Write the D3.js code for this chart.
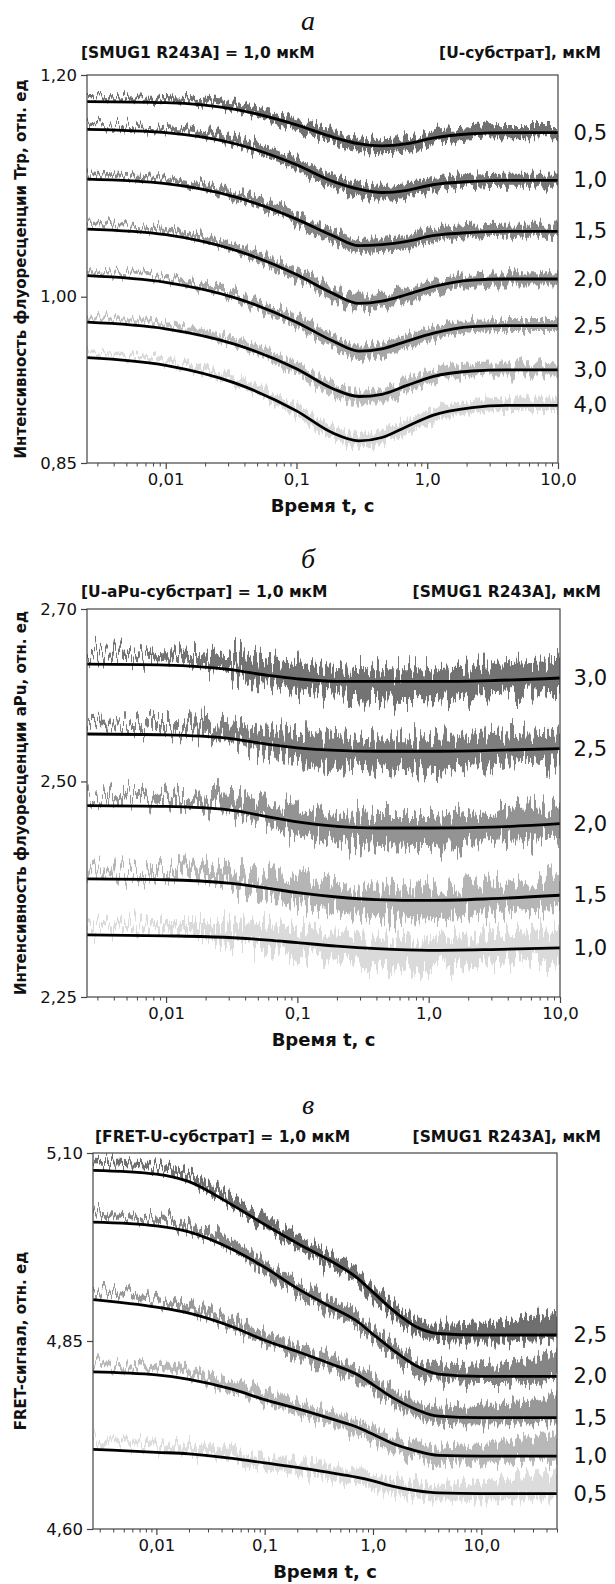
<!DOCTYPE html>
<html>
<head>
<meta charset="utf-8">
<script src="https://cdn.jsdelivr.net/npm/d3@7"></script>
<style>
  body { margin: 0; background: #fff; }
  svg { display: block; }
  .hdr { font-family: "DejaVu Sans", sans-serif; font-weight: bold; font-size: 15.5px; fill: #111; }
  .ttl { font-family: "Liberation Serif", "Times New Roman", serif; font-style: italic; font-size: 28px; fill: #111; }
  .ylab, .xlab { font-family: "DejaVu Sans", sans-serif; font-weight: bold; fill: #111; }
  .conc { font-family: "DejaVu Sans", sans-serif; font-size: 21px; fill: #111; }
</style>
</head>
<body>
<svg id="chart" width="615" height="1584"></svg>
<script>
// ---- panel а : Trp fluorescence, [U-substrate] series ----
const timeA = [0.0025, 0.01, 0.034, 0.1, 0.19, 0.3, 0.45, 0.7, 1.1, 2.2, 4, 10];
const concA = ["0,5", "1,0", "1,5", "2,0", "2,5", "3,0", "4,0"];
const trpA05 = [1.176, 1.175, 1.169, 1.155, 1.144, 1.138, 1.136, 1.138, 1.143, 1.147, 1.148, 1.148];
const trpA10 = [1.151, 1.148, 1.138, 1.119, 1.104, 1.097, 1.094, 1.096, 1.101, 1.104, 1.105, 1.105];
const trpA15 = [1.106, 1.102, 1.090, 1.070, 1.055, 1.046, 1.047, 1.050, 1.055, 1.058, 1.059, 1.059];
const trpA20 = [1.061, 1.056, 1.042, 1.020, 1.003, 0.994, 0.996, 1.002, 1.009, 1.015, 1.016, 1.016];
const trpA25 = [1.019, 1.013, 0.999, 0.977, 0.960, 0.951, 0.953, 0.960, 0.967, 0.973, 0.974, 0.974];
const trpA30 = [0.977, 0.971, 0.957, 0.935, 0.917, 0.910, 0.912, 0.920, 0.928, 0.933, 0.934, 0.934];
const trpA40 = [0.945, 0.938, 0.922, 0.897, 0.877, 0.870, 0.873, 0.883, 0.893, 0.900, 0.902, 0.902];
// spread of the raw traces around the fit
const noiseTimeA = [0.0025, 0.01, 0.04, 0.15, 1.05, 1.15, 10];
const noiseLowA  = [0.003, 0.002, -0.002, -0.006, -0.007, -0.005, -0.005];
const noiseHighA = [0.006, 0.006, 0.006, 0.006, 0.006, 0.006, 0.006];
const yTicksA = [0.85, 1.00, 1.20];
const yLabelsA = ["0,85", "1,00", "1,20"];

// ---- panel б : aPu fluorescence, [SMUG1 R243A] series ----
const timeB = [0.0025, 0.01, 0.03, 0.06, 0.1, 0.2, 0.4, 1, 3, 10];
const concB = ["3,0", "2,5", "2,0", "1,5", "1,0"];
const apuB30 = [2.636, 2.635, 2.630, 2.623, 2.619, 2.616, 2.616, 2.616, 2.617, 2.620];
const apuB25 = [2.555, 2.554, 2.550, 2.543, 2.539, 2.536, 2.535, 2.535, 2.536, 2.538];
const apuB20 = [2.472, 2.471, 2.467, 2.459, 2.453, 2.448, 2.446, 2.446, 2.447, 2.451];
const apuB15 = [2.387, 2.386, 2.382, 2.376, 2.371, 2.366, 2.363, 2.362, 2.364, 2.368];
const apuB10 = [2.322, 2.321, 2.319, 2.316, 2.313, 2.309, 2.306, 2.304, 2.305, 2.307];
const noiseTimeB = [0.0025, 0.01, 0.04, 0.1, 0.3, 1.05, 1.15, 10];
const noiseLowB  = [0.008, 0.006, -0.006, -0.015, -0.02, -0.022, -0.016, -0.016];
const noiseHighB = [0.014, 0.016, 0.018, 0.018, 0.014, 0.014, 0.018, 0.020];
const yTicksB = [2.25, 2.50, 2.70];
const yLabelsB = ["2,25", "2,50", "2,70"];

// ---- panel в : FRET signal, [SMUG1 R243A] series ----
const timeC = [0.0026, 0.01, 0.02, 0.05, 0.1, 0.2, 0.4, 0.7, 1, 1.5, 2.5, 4, 10, 50];
const concC = ["2,5", "2,0", "1,5", "1,0", "0,5"];
const fretC25 = [5.077, 5.072, 5.062, 5.031, 5.005, 4.980, 4.957, 4.935, 4.915, 4.892, 4.869, 4.860, 4.858, 4.858];
const fretC20 = [5.008, 5.003, 4.995, 4.972, 4.948, 4.920, 4.896, 4.877, 4.859, 4.839, 4.817, 4.806, 4.803, 4.803];
const fretC15 = [4.905, 4.895, 4.887, 4.869, 4.851, 4.836, 4.820, 4.806, 4.792, 4.775, 4.759, 4.750, 4.748, 4.748];
const fretC10 = [4.809, 4.805, 4.799, 4.786, 4.772, 4.760, 4.747, 4.736, 4.726, 4.714, 4.704, 4.698, 4.697, 4.697];
const fretC05 = [4.706, 4.702, 4.700, 4.694, 4.688, 4.682, 4.675, 4.669, 4.664, 4.657, 4.651, 4.648, 4.647, 4.647];
const noiseTimeC = [0.0026, 0.01, 0.05, 0.2, 1, 5, 20, 50];
const noiseLowC  = [0.008, 0.006, -0.003, -0.008, -0.010, -0.010, -0.008, -0.006];
const noiseHighC = [0.014, 0.014, 0.012, 0.010, 0.010, 0.012, 0.020, 0.030];
const yTicksC = [4.60, 4.85, 5.10];
const yLabelsC = ["4,60", "4,85", "5,10"];

const xTicks = [0.01, 0.1, 1, 10];
const xLabels = ["0,01", "0,1", "1,0", "10,0"];

const svg = d3.select("#chart");
const defs = svg.append("defs");

const panels = [
    {
        id: "a", letter: "а", letterY: 30, hdrY: 58, top: 75, bottom: 463, left: 87, right: 558,
        xDomain: [0.0025, 10], yDomain: [0.85, 1.20],
        time: timeA, fits: [trpA05, trpA10, trpA15, trpA20, trpA25, trpA30, trpA40], conc: concA,
        greys: ["#707070", "#767676", "#858585", "#969696", "#a6a6a6", "#bdbdbd", "#d9d9d9"],
        noise: [noiseTimeA, noiseLowA, noiseHighA], jitter: 22, seed: 3,
        yTicks: yTicksA, yLabels: yLabelsA,
        hdrLeft: "[SMUG1 R243A] = 1,0 мкМ", hdrLeftX: 81, hdrRight: "[U-субстрат], мкМ",
        yTitle: "Интенсивность флуоресценции Trp, отн. ед"
    },
    {
        id: "b", letter: "б", letterY: 568, hdrY: 597, top: 609, bottom: 997, left: 87, right: 560,
        xDomain: [0.0025, 10], yDomain: [2.25, 2.70],
        time: timeB, fits: [apuB30, apuB25, apuB20, apuB15, apuB10], conc: concB,
        greys: ["#737373", "#7e7e7e", "#939393", "#b5b5b5", "#dadada"],
        noise: [noiseTimeB, noiseLowB, noiseHighB], jitter: 50, seed: 7,
        yTicks: yTicksB, yLabels: yLabelsB,
        hdrLeft: "[U-aPu-субстрат] = 1,0 мкМ", hdrLeftX: 81, hdrRight: "[SMUG1 R243A], мкМ",
        yTitle: "Интенсивность флуоресценции aPu, отн. ед"
    },
    {
        id: "c", letter: "в", letterY: 1114, hdrY: 1142, top: 1153, bottom: 1529, left: 93, right: 557,
        xDomain: [0.0026, 50], yDomain: [4.60, 5.10],
        time: timeC, fits: [fretC25, fretC20, fretC15, fretC10, fretC05], conc: concC,
        greys: ["#6f6f6f", "#858585", "#989898", "#b8b8b8", "#dcdcdc"],
        noise: [noiseTimeC, noiseLowC, noiseHighC], jitter: 30, seed: 11,
        yTicks: yTicksC, yLabels: yLabelsC,
        hdrLeft: "[FRET-U-субстрат] = 1,0 мкМ", hdrLeftX: 95, hdrRight: "[SMUG1 R243A], мкМ",
        yTitle: "FRET-сигнал, отн. ед"
    }
];

panels.forEach(drawPanel);

function drawPanel(p) {
    const x = d3.scaleLog().domain(p.xDomain).range([p.left, p.right]);
    const y = d3.scaleLinear().domain(p.yDomain).range([p.bottom, p.top]);
    const lo = d3.scaleLog().domain(p.noise[0]).range(p.noise[1]).clamp(true);
    const hi = d3.scaleLog().domain(p.noise[0]).range(p.noise[2]).clamp(true);

    // clip + jitter filter for the raw traces
    defs.append("clipPath").attr("id", "clip-" + p.id)
        .append("rect")
        .attr("x", p.left).attr("y", p.top)
        .attr("width", p.right - p.left).attr("height", p.bottom - p.top);

    const f = defs.append("filter").attr("id", "jit-" + p.id)
        .attr("filterUnits", "userSpaceOnUse")
        .attr("x", 0).attr("y", p.top - 40).attr("width", 615).attr("height", p.bottom - p.top + 80)
        .attr("color-interpolation-filters", "sRGB");
    f.append("feTurbulence").attr("type", "fractalNoise")
        .attr("baseFrequency", "0.35 0.012").attr("numOctaves", 2).attr("seed", p.seed)
        .attr("result", "noise");
    f.append("feColorMatrix").attr("in", "noise").attr("type", "matrix")
        .attr("values", "0 0 0 0 0.5  0 1 0 0 0  0 0 0 0 0  0 0 0 0 1")
        .attr("result", "map");
    f.append("feDisplacementMap").attr("in", "SourceGraphic").attr("in2", "map")
        .attr("scale", p.jitter).attr("xChannelSelector", "R").attr("yChannelSelector", "G");

    const series = p.fits.map(vals => p.time.map((t, i) => ({ t: t, v: vals[i] })));

    const band = d3.area()
        .x(d => x(d.t))
        .y0(d => y(d.v + lo(d.t)))
        .y1(d => y(d.v + hi(d.t)))
        .curve(d3.curveMonotoneX);

    const line = d3.line()
        .x(d => x(d.t))
        .y(d => y(d.v))
        .curve(d3.curveMonotoneX);

    const clipped = svg.append("g").attr("clip-path", "url(#clip-" + p.id + ")");
    clipped.append("g").attr("filter", "url(#jit-" + p.id + ")")
        .selectAll("path")
        .data(series)
        .enter()
        .append("path")
        .attr("d", band)
        .attr("fill", (d, i) => p.greys[i]);

    clipped.append("g")
        .selectAll("path")
        .data(series)
        .enter()
        .append("path")
        .attr("d", line)
        .attr("fill", "none")
        .attr("stroke", "#000")
        .attr("stroke-width", 2.8);

    // frame
    svg.append("rect")
        .attr("x", p.left).attr("y", p.top)
        .attr("width", p.right - p.left).attr("height", p.bottom - p.top)
        .attr("fill", "none").attr("stroke", "#444").attr("stroke-width", 1.2);

    // y axis
    const yAxis = svg.append("g")
        .attr("transform", `translate(${p.left},0)`)
        .call(d3.axisLeft(y).tickValues(p.yTicks).tickFormat((d, i) => p.yLabels[i]).tickSize(6).tickPadding(4));
    yAxis.select(".domain").remove();
    yAxis.selectAll("line").attr("stroke", "#444").attr("stroke-width", 1.2);
    yAxis.selectAll("text").attr("font-family", "'DejaVu Sans', sans-serif").attr("font-size", 16.5).attr("fill", "#111");

    // x axis: minor then major ticks
    const minor = x.ticks().filter(t => xTicks.indexOf(t) < 0);
    const xMinor = svg.append("g")
        .attr("transform", `translate(0,${p.bottom})`)
        .call(d3.axisBottom(x).tickValues(minor).tickFormat("").tickSize(3.5));
    xMinor.select(".domain").remove();
    xMinor.selectAll("line").attr("stroke", "#444");

    const xAxis = svg.append("g")
        .attr("transform", `translate(0,${p.bottom})`)
        .call(d3.axisBottom(x).tickValues(xTicks).tickFormat((d, i) => xLabels[i]).tickSize(6).tickPadding(4));
    xAxis.select(".domain").remove();
    xAxis.selectAll("line").attr("stroke", "#444").attr("stroke-width", 1.2);
    xAxis.selectAll("text").attr("font-family", "'DejaVu Sans', sans-serif").attr("font-size", 16.5).attr("fill", "#111");

    // titles
    const cx = (p.left + p.right) / 2;
    svg.append("text").attr("class", "ttl")
        .attr("x", 308).attr("y", p.letterY)
        .attr("text-anchor", "middle")
        .text(p.letter);
    svg.append("text").attr("class", "hdr")
        .attr("x", p.hdrLeftX).attr("y", p.hdrY)
        .text(p.hdrLeft);
    svg.append("text").attr("class", "hdr")
        .attr("x", 601).attr("y", p.hdrY)
        .attr("text-anchor", "end")
        .text(p.hdrRight);
    svg.append("text").attr("class", "xlab")
        .attr("x", cx).attr("y", p.bottom + 49)
        .attr("text-anchor", "middle")
        .attr("font-size", 18)
        .text("Время t, с");
    svg.append("text").attr("class", "ylab")
        .attr("transform", `translate(26,${(p.top + p.bottom) / 2}) rotate(-90)`)
        .attr("text-anchor", "middle")
        .attr("font-size", 15)
        .text(p.yTitle);

    // concentration labels at the right end of each fit
    svg.append("g")
        .selectAll("text")
        .data(series)
        .enter()
        .append("text")
        .attr("class", "conc")
        .attr("x", 607)
        .attr("y", d => y(d[d.length - 1].v) + 1)
        .attr("dominant-baseline", "middle")
        .attr("text-anchor", "end")
        .text((d, i) => p.conc[i]);
}
</script>
</body>
</html>
